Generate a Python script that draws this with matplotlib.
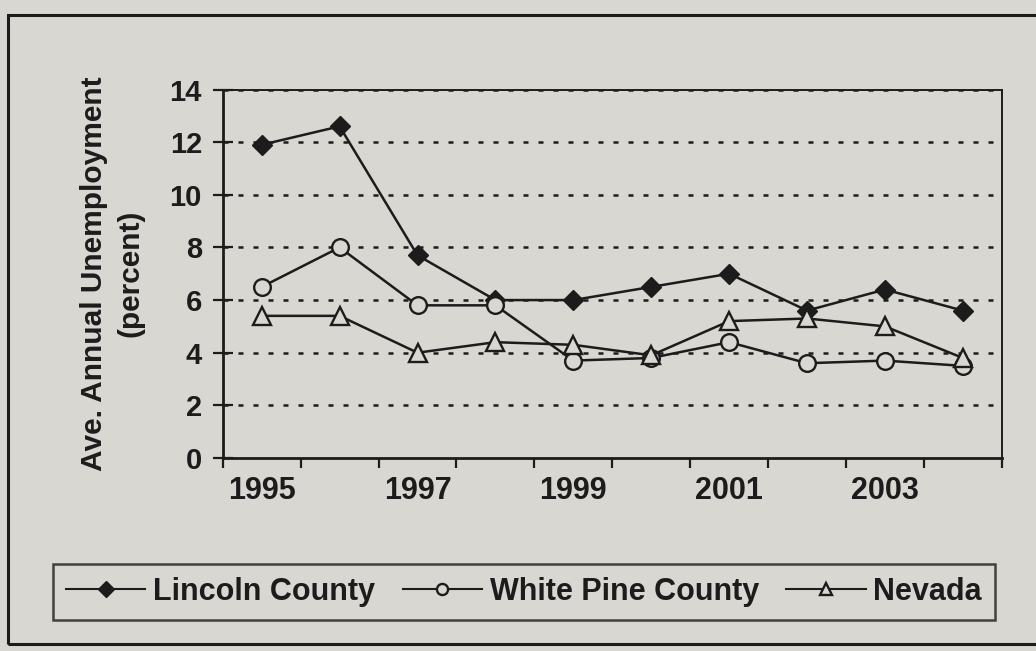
import matplotlib.pyplot as plt
from matplotlib.patches import Rectangle

# data
years = [1995, 1996, 1997, 1998, 1999, 2000, 2001, 2002, 2003, 2004]
lincoln = [11.9, 12.6, 7.7, 6.0, 6.0, 6.5, 7.0, 5.6, 6.4, 5.6]
white_pine = [6.5, 8.0, 5.8, 5.8, 3.7, 3.8, 4.4, 3.6, 3.7, 3.5]
nevada = [5.4, 5.4, 4.0, 4.4, 4.3, 3.9, 5.2, 5.3, 5.0, 3.8]
year_labels = ["1995", "1997", "1999", "2001", "2003"]
y_ticks = [0, 2, 4, 6, 8, 10, 12, 14]

bg = "#d9d7d1"
ink = "#1c1c1c"
plt.rcParams["font.family"] = ["Liberation Sans", "DejaVu Sans"]
plt.rcParams["font.weight"] = "bold"

fig = plt.figure(figsize=(10.36, 6.51), dpi=100, facecolor=bg)
ax = fig.add_axes([0.215, 0.2965, 0.752, 0.566], facecolor=bg)

x = list(range(len(years)))
ax.plot(x, lincoln, color=ink, lw=1.8, marker="D", ms=10, mfc=ink, mec=ink,
        label="Lincoln County", zorder=3)
ax.plot(x, white_pine, color=ink, lw=1.8, marker="o", ms=12, mfc=bg, mec=ink,
        mew=1.7, label="White Pine County", zorder=3)
ax.plot(x, nevada, color=ink, lw=1.8, marker="^", ms=13, mfc=bg, mec=ink,
        mew=1.7, label="Nevada", zorder=3)

ax.set_xlim(-0.5, len(years) - 0.5)
ax.set_ylim(0, 14)

# dotted horizontal grid
for v in y_ticks[1:]:
    ax.axhline(v, color=ink, lw=1.8, ls=(0, (2, 4)), zorder=1)

# category axis: ticks between categories, labels every other year
ax.set_xticks([i - 0.5 for i in range(len(years) + 1)])
ax.set_xticklabels([])
ax.tick_params(axis="x", which="major", direction="out", length=7, width=1.6, color=ink)
ax.set_xticks([years.index(int(s)) for s in year_labels], minor=True)
ax.set_xticklabels(year_labels, minor=True, fontsize=22, fontweight="bold", color=ink)
ax.tick_params(axis="x", which="minor", length=0, pad=13)

ax.set_yticks(y_ticks)
ax.set_yticklabels([str(v) for v in y_ticks], fontsize=21, fontweight="bold", color=ink)
ax.tick_params(axis="y", direction="inout", length=14, width=1.6, color=ink, pad=8)

for side in ["left", "bottom"]:
    ax.spines[side].set_linewidth(2)
    ax.spines[side].set_color(ink)
for side in ["top", "right"]:
    ax.spines[side].set_linewidth(1.4)
    ax.spines[side].set_color(ink)

ax.set_ylabel("Ave. Annual Unemployment\n(percent)", fontsize=21.5, fontweight="bold",
              color=ink, linespacing=1.4, labelpad=18)

leg = fig.legend(loc="center", bbox_to_anchor=(524 / 1036, 0.091), ncol=3, frameon=True,
                 fancybox=False, edgecolor=ink, facecolor=bg, handlelength=2.6,
                 handletextpad=0.25, columnspacing=0.9, borderpad=0.42,
                 prop={"family": ["Liberation Sans Narrow", "Liberation Sans"],
                       "weight": "bold", "size": 22})
leg.get_frame().set_linewidth(1.8)
for t in leg.get_texts():
    t.set_color(ink)
for h in leg.legend_handles:
    h.set_markersize(8)
    h.set_linewidth(1.5)

# outer frame around the whole chart
fig.patches.append(Rectangle((8 / 1036, 7 / 651), 1.02, 629 / 651, transform=fig.transFigure,
                             fill=False, lw=2.2, ec=ink))

fig.savefig("out.png", dpi=100, facecolor=bg)
